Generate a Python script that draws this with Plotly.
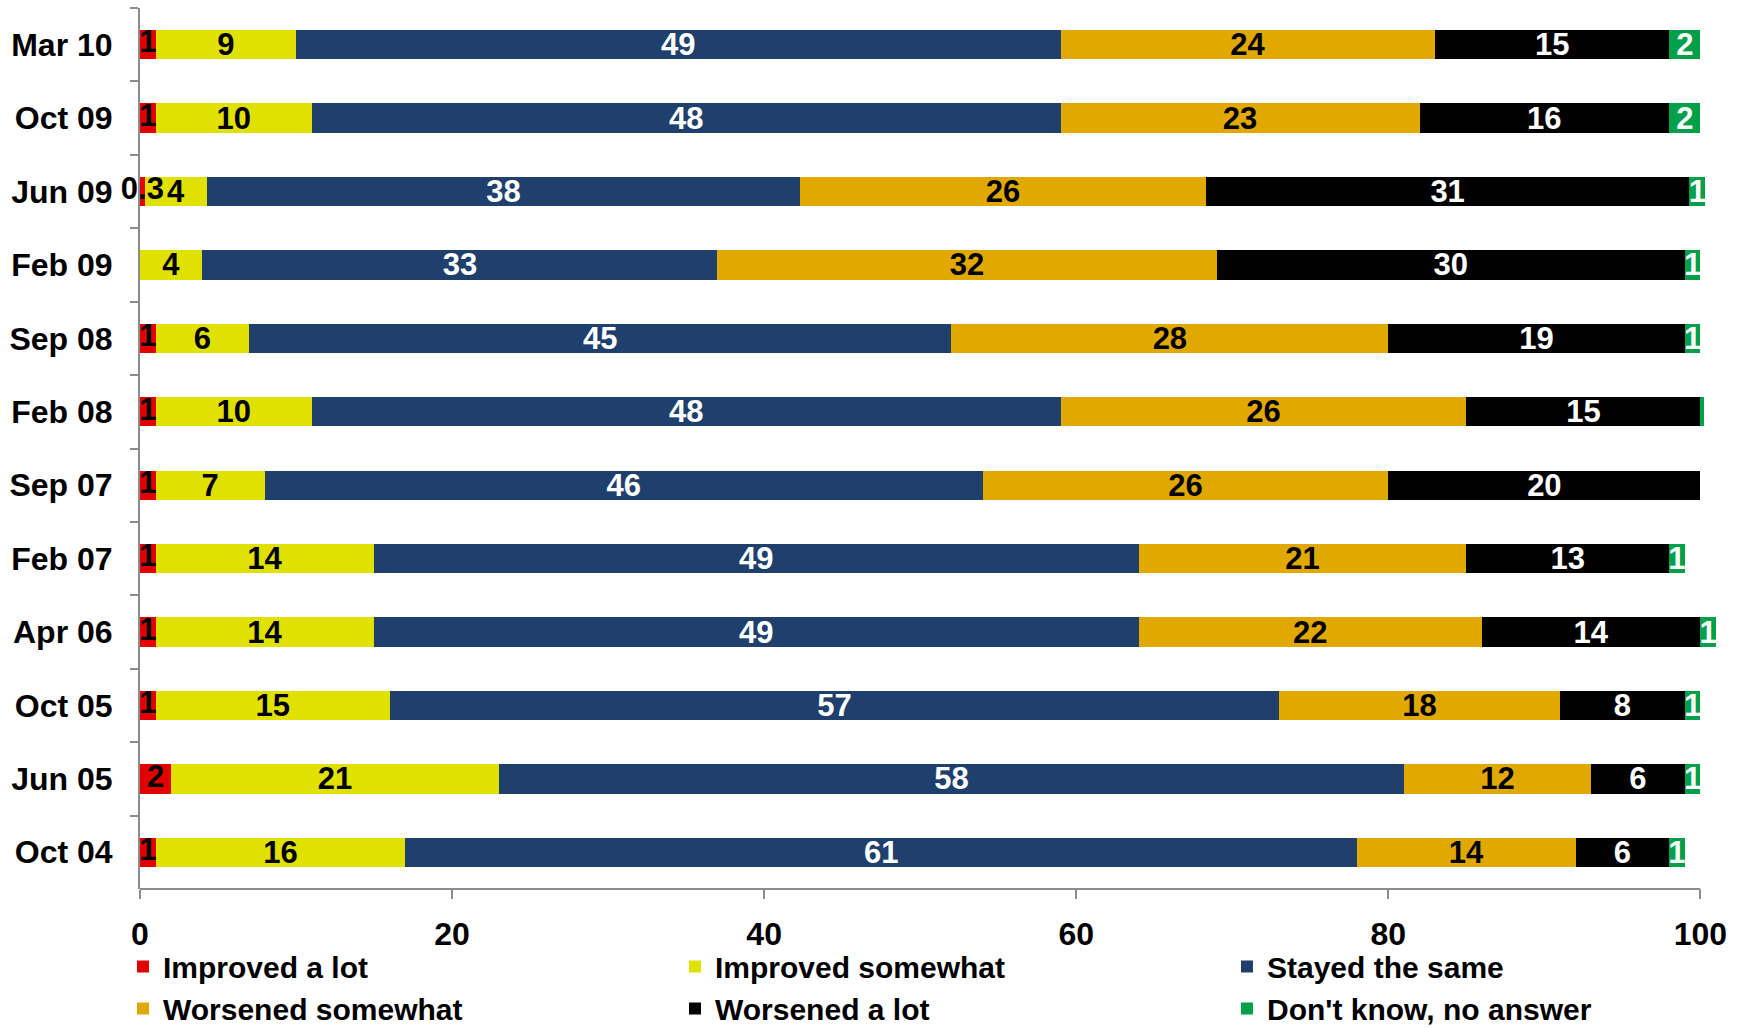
import plotly.graph_objects as go

# Survey waves, listed top to bottom
periods = ["Mar 10", "Oct 09", "Jun 09", "Feb 09", "Sep 08", "Feb 08",
           "Sep 07", "Feb 07", "Apr 06", "Oct 05", "Jun 05", "Oct 04"]

# Share of answers (%) per wave
improved_lot = [1, 1, 0.3, 0, 1, 1, 1, 1, 1, 1, 2, 1]
improved_somewhat = [9, 10, 4, 4, 6, 10, 7, 14, 14, 15, 21, 16]
stayed_same = [49, 48, 38, 33, 45, 48, 46, 49, 49, 57, 58, 61]
worsened_somewhat = [24, 23, 26, 32, 28, 26, 26, 21, 22, 18, 12, 14]
worsened_lot = [15, 16, 31, 30, 19, 15, 20, 13, 14, 8, 6, 6]
dont_know = [2, 2, 1, 1, 1, 0.2, 0, 1, 1, 1, 1, 1]

x_ticks = [0, 20, 40, 60, 80, 100]

FONT = "Liberation Sans, Arial, sans-serif"
AXIS_GREY = "#8c8c8c"

series = [
    ("Improved a lot", improved_lot, "#e30000", "black"),
    ("Improved somewhat", improved_somewhat, "#e1e100", "black"),
    ("Stayed the same", stayed_same, "#1f3f6d", "white"),
    ("Worsened somewhat", worsened_somewhat, "#e1a900", "black"),
    ("Worsened a lot", worsened_lot, "#000000", "white"),
    ("Don't know, no answer", dont_know, "#00a04b", "white"),
]


def label(v):
    # segments thinner than 0.3 points stay unlabelled
    if v < 0.3:
        return ""
    return str(int(v)) if float(v).is_integer() else str(v)


fig = go.Figure()
for i, (name, vals, color, txt_color) in enumerate(series):
    # the first segment is labelled by a text layer on top (its labels
    # may spill over the neighbouring segment)
    fig.add_trace(go.Bar(
        name=name,
        y=periods,
        x=vals,
        orientation="h",
        marker=dict(color=color, line=dict(width=0)),
        text=None if i == 0 else [label(v) for v in vals],
        textposition="inside",
        insidetextanchor="middle",
        textangle=0,
        constraintext="none",
        cliponaxis=False,
        textfont=dict(family=FONT, size=31, color=txt_color, weight="bold"),
        hoverinfo="skip",
    ))

# labels for the "Improved a lot" segments, centred on each segment
fig.add_trace(go.Scatter(
    x=[v / 2 for v in improved_lot],
    y=periods,
    mode="text",
    text=[label(v) for v in improved_lot],
    textposition="middle center",
    textfont=dict(family=FONT, size=31, color="black", weight="bold"),
    cliponaxis=False,
    showlegend=False,
    hoverinfo="skip",
))

fig.update_layout(
    barmode="stack",
    bargap=0.6,
    width=1744,
    height=1028,
    paper_bgcolor="white",
    plot_bgcolor="white",
    margin=dict(l=140, r=28, t=8, b=139, autoexpand=False),
    font=dict(family=FONT, color="black"),
    showlegend=True,
    legend=dict(
        orientation="h",
        x=-0.0108,
        xanchor="left",
        y=-0.0585,
        yanchor="top",
        bgcolor="rgba(0,0,0,0)",
        entrywidth=507,
        entrywidthmode="pixels",
        traceorder="normal",
        font=dict(family=FONT, size=30, color="black", weight="bold"),
        itemclick=False,
        itemdoubleclick=False,
    ),
    xaxis=dict(
        range=[0, 101],
        tickvals=x_ticks,
        ticktext=[str(t) for t in x_ticks],
        showgrid=False,
        zeroline=False,
        showline=False,
        ticks="outside",
        ticklen=9,
        tickwidth=2,
        tickcolor=AXIS_GREY,
        ticklabelstandoff=8,
        tickfont=dict(family=FONT, size=32, color="black", weight="bold"),
    ),
    yaxis=dict(
        range=[len(periods) - 0.5, -0.5],
        showgrid=False,
        zeroline=False,
        showline=True,
        linecolor=AXIS_GREY,
        linewidth=2,
        ticks="outside",
        tickson="boundaries",
        ticklen=8,
        tickwidth=2,
        tickcolor=AXIS_GREY,
        ticklabelstandoff=19,
        tickfont=dict(family=FONT, size=32, color="black", weight="bold"),
    ),
    # value axis line runs from 0 to 100
    shapes=[dict(type="line", xref="x", yref="paper",
                 x0=x_ticks[0], x1=x_ticks[-1], y0=0, y1=0,
                 line=dict(color=AXIS_GREY, width=2))],
)

fig.write_html("out.html")
